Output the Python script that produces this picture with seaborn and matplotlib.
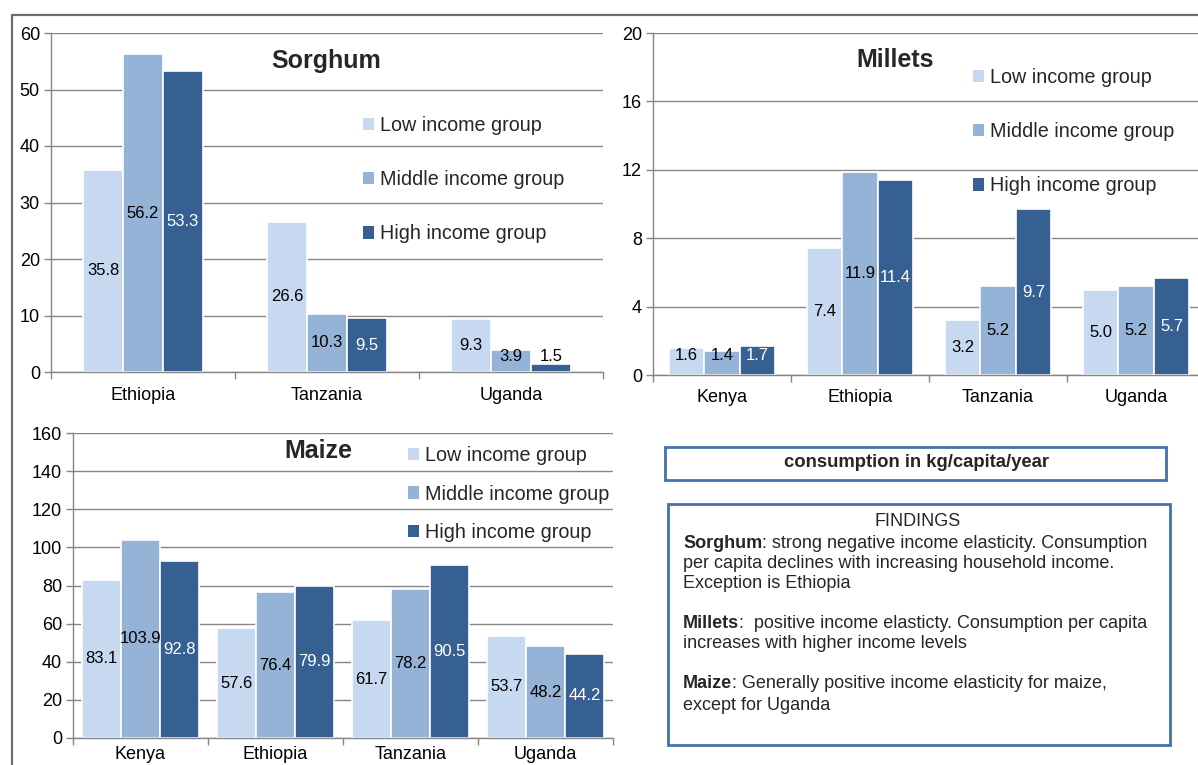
import numpy as np
import pandas as pd
import matplotlib
matplotlib.use("Agg")
import matplotlib.pyplot as plt
from matplotlib.patches import Patch, Rectangle
from matplotlib.lines import Line2D
import seaborn as sns

# ---- data -------------------------------------------------------------
groups = ["Low income group", "Middle income group", "High income group"]
colors = ["#C6D9F1", "#95B3D7", "#376092"]

sorghum_countries = ["Ethiopia", "Tanzania", "Uganda"]
sorghum_low = [35.8, 26.6, 9.3]
sorghum_mid = [56.2, 10.3, 3.9]
sorghum_high = [53.3, 9.5, 1.5]

millet_countries = ["Kenya", "Ethiopia", "Tanzania", "Uganda"]
millet_low = [1.6, 7.4, 3.2, 5.0]
millet_mid = [1.4, 11.9, 5.2, 5.2]
millet_high = [1.7, 11.4, 9.7, 5.7]

maize_countries = ["Kenya", "Ethiopia", "Tanzania", "Uganda"]
maize_low = [83.1, 57.6, 61.7, 53.7]
maize_mid = [103.9, 76.4, 78.2, 48.2]
maize_high = [92.8, 79.9, 90.5, 44.2]

unit_note = "consumption in kg/capita/year"
findings_title = "FINDINGS"
findings_blocks = [
    ("Sorghum", [": strong negative income elasticity. Consumption",
                 "per capita declines with increasing household income.",
                 "Exception is Ethiopia"]),
    ("Millets", [":  positive income elasticty. Consumption per capita",
                 "increases with higher income levels"]),
    ("Maize", [": Generally positive income elasticity for maize,",
               "except for Uganda"]),
]

# ---- style ------------------------------------------------------------
sns.set_theme(style="white")
plt.rcParams["font.family"] = ["Liberation Sans", "DejaVu Sans"]

W, H = 1198, 765
fig = plt.figure(figsize=(W / 100, H / 100), dpi=100)
GRID = "#868686"


def fx(px):
    return px / W


def fy(py):
    return 1 - py / H


def panel(box, title, countries, low, mid, high, ymax, ystep, width,
          title_xy, legend_xy, legend_spacing, label_floor, xpad):
    left, top, right, bottom = box
    ax = fig.add_axes([fx(left), fy(bottom), fx(right - left), (bottom - top) / H])
    df = pd.DataFrame({
        "country": countries * 3,
        "group": [g for g in groups for _ in countries],
        "value": list(low) + list(mid) + list(high),
    })
    sns.barplot(data=df, x="country", y="value", hue="group", order=countries,
                hue_order=groups, palette=colors, saturation=1, width=width,
                edgecolor="white", linewidth=1.2, legend=False, ax=ax)
    n = len(countries)
    ax.set_xlim(-0.5, n - 0.5)
    ax.set_ylim(0, ymax)
    ax.set_axisbelow(True)
    ax.yaxis.grid(True, color=GRID, lw=1)
    ax.xaxis.grid(False)
    for s in ("top", "right"):
        ax.spines[s].set_visible(False)
    for s in ("left", "bottom"):
        ax.spines[s].set_color(GRID)
        ax.spines[s].set_linewidth(1)
    ticks = np.arange(0, ymax + 0.1, ystep)
    ax.set_yticks(ticks)
    ax.set_yticklabels([f"{int(v)}" for v in ticks])
    ax.set_xticks(range(n))
    ax.set_xticklabels(countries)
    ax.set_xticks(np.arange(-0.5, n, 1.0), minor=True)
    ax.tick_params(axis="y", length=5, width=1, color=GRID, labelsize=13,
                   pad=3, labelcolor="black", left=True)
    ax.tick_params(axis="x", which="major", length=0, labelsize=13, pad=xpad,
                   labelcolor="black")
    ax.tick_params(axis="x", which="minor", length=5, width=1, color=GRID,
                   bottom=True)
    ax.set_xlabel("")
    ax.set_ylabel("")

    # value labels centred in each bar
    px_per_unit = (bottom - top) / ymax
    series = [low, mid, high]
    for i, cont in enumerate(ax.containers):
        for j, bar in enumerate(cont):
            v = series[i][j]
            x = bar.get_x() + bar.get_width() / 2
            bar_px = v * px_per_unit
            off = max(bar_px / 2, label_floor)
            inside = off < bar_px - 4
            col = "white" if (i == 2 and inside) else "black"
            ax.annotate(f"{v:.1f}", xy=(x, 0), xytext=(0, off),
                        textcoords="offset pixels", ha="center", va="center",
                        fontsize=12, color=col)

    fig.text(fx(title_xy[0]), fy(title_xy[1]), title, ha="center", va="center",
             fontsize=18, fontweight="bold")
    handles = [Patch(facecolor=c, edgecolor="none") for c in colors]
    fig.legend(handles, groups, loc="upper left",
               bbox_to_anchor=(fx(legend_xy[0]), fy(legend_xy[1])),
               frameon=False, fontsize=14.2, handlelength=0.55, handleheight=0.6,
               handletextpad=0.3, labelspacing=legend_spacing, borderpad=0,
               borderaxespad=0)
    return ax


panel((51, 33, 603, 372), "Sorghum", sorghum_countries, sorghum_low,
      sorghum_mid, sorghum_high, 60, 10, 0.65, (326, 61), (363, 116), 1.78,
      16, 11)
panel((653, 33, 1205, 375), "Millets", millet_countries, millet_low,
      millet_mid, millet_high, 20, 4, 0.77, (895, 60), (973, 68), 1.78,
      20, 10)
panel((73, 433, 613, 738), "Maize", maize_countries, maize_low,
      maize_mid, maize_high, 160, 20, 0.87, (318, 451), (408, 446), 0.99,
      16, 6)

# ---- outer frame lines --------------------------------------------------
fig.add_artist(Line2D([fx(12), 1], [fy(15), fy(15)], transform=fig.transFigure,
                      color="#6E6E6E", lw=1.6))
fig.add_artist(Line2D([fx(12), fx(12)], [fy(15), 0], transform=fig.transFigure,
                      color="#6E6E6E", lw=1.6))

# ---- text boxes ----------------------------------------------------------
BOX = "#4472A8"
fig.add_artist(Rectangle((fx(665), fy(480)), fx(1166 - 665), (480 - 447) / H,
                         transform=fig.transFigure, fill=False, edgecolor=BOX,
                         lw=2))
fig.text(fx(917), fy(463), unit_note, ha="center", va="center", fontsize=13.3,
         fontweight="bold")

fig.add_artist(Rectangle((fx(668), fy(745)), fx(1170 - 668), (745 - 504) / H,
                         transform=fig.transFigure, fill=False, edgecolor=BOX,
                         lw=2))
fig.text(fx(918), fy(522), findings_title, ha="center", va="center",
         fontsize=13)

renderer = fig.canvas.get_renderer()
x0 = 683
ys = [[543, 563, 583], [623, 644], [684, 705]]
for (head, lines), yy in zip(findings_blocks, ys):
    t = fig.text(fx(x0), fy(yy[0]), head, ha="left", va="center", fontsize=13,
                 fontweight="bold")
    bb = t.get_window_extent(renderer=renderer)
    fig.text(bb.x1 / W, fy(yy[0]), lines[0], ha="left", va="center",
             fontsize=13)
    for txt, y in zip(lines[1:], yy[1:]):
        fig.text(fx(x0), fy(y), txt, ha="left", va="center", fontsize=13)

fig.savefig("out.png", dpi=100)
